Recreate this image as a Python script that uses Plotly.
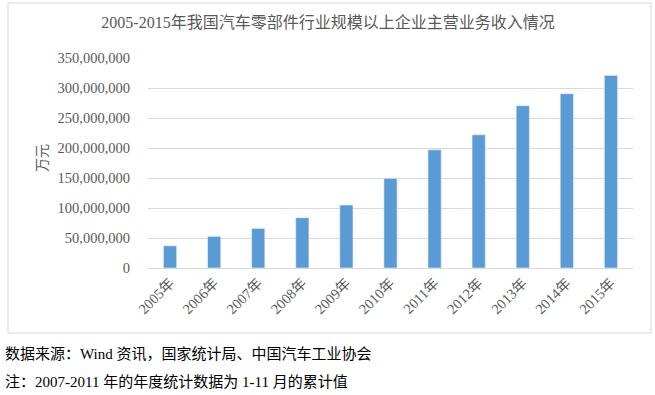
import plotly.graph_objects as go

years = ["2005年", "2006年", "2007年", "2008年", "2009年", "2010年",
         "2011年", "2012年", "2013年", "2014年", "2015年"]
revenue = [37000000, 52700000, 66000000, 83800000, 105000000, 149400000,
           197000000, 222000000, 270500000, 290500000, 321000000]
y_ticks = [0, 50000000, 100000000, 150000000, 200000000, 250000000, 300000000, 350000000]

title_text = "2005-2015年我国汽车零部件行业规模以上企业主营业务收入情况"
y_title = "万元"
note1 = "数据来源：Wind 资讯，国家统计局、中国汽车工业协会"
note2 = "注：2007-2011 年的年度统计数据为 1-11 月的累计值"

FONT = "Liberation Serif, Times New Roman, Noto Sans CJK SC, serif"
GREY = "#595959"

W, H = 655, 395
L, R, T, B = 148, 22, 58, 127
pw = W - L - R
ph = H - T - B


def px_x(x):
    return (x - L) / pw


def px_y(y):
    return (H - B - y) / ph


fig = go.Figure()
fig.add_trace(go.Bar(
    x=years, y=revenue,
    marker=dict(color="#5B9BD5", line=dict(color="#EAF2FA", width=0.6)),
    width=0.3,
))

fig.update_layout(
    width=W, height=H,
    margin=dict(l=L, r=R, t=T, b=B, pad=0),
    paper_bgcolor="white", plot_bgcolor="white",
    showlegend=False,
    font=dict(family=FONT, color=GREY),
    title=dict(text=title_text, x=328 / W, xref="container", xanchor="center",
               y=1 - 22 / H, yref="container", yanchor="middle",
               font=dict(family=FONT, size=16, color=GREY)),
    xaxis=dict(
        tickangle=-45, tickfont=dict(size=14.5, color=GREY, family=FONT),
        showline=True, linecolor="#D9D9D9", linewidth=1,
        showgrid=False, ticks="",
    ),
    yaxis=dict(
        range=[0, 350000000], tickvals=y_ticks, tickformat=",",
        tickfont=dict(size=14.5, color=GREY, family=FONT),
        showgrid=True, gridcolor="#D9D9D9", gridwidth=1,
        zeroline=False, showline=False, ticks="",
        ticklabelstandoff=17,
    ),
    shapes=[dict(type="rect", xref="paper", yref="paper",
                 x0=px_x(8), x1=px_x(651), y0=px_y(333), y1=px_y(3),
                 line=dict(color="#D9D9D9", width=1), fillcolor="rgba(0,0,0,0)",
                 layer="below")],
    annotations=[
        dict(text=y_title, xref="paper", yref="paper", x=px_x(42), y=px_y(158),
             textangle=-90, showarrow=False, xanchor="center", yanchor="middle",
             font=dict(size=14, color=GREY, family=FONT)),
        dict(text=note1, xref="paper", yref="paper", x=px_x(3), y=px_y(354),
             showarrow=False, xanchor="left", yanchor="middle",
             font=dict(size=15, color="black", family=FONT)),
        dict(text=note2, xref="paper", yref="paper", x=px_x(3), y=px_y(382),
             showarrow=False, xanchor="left", yanchor="middle",
             font=dict(size=15, color="black", family=FONT)),
    ],
)

fig.write_html(
    "out.html",
    config={"displayModeBar": False},
    post_script="document.body.style.margin='0';document.body.style.overflow='hidden';",
)
